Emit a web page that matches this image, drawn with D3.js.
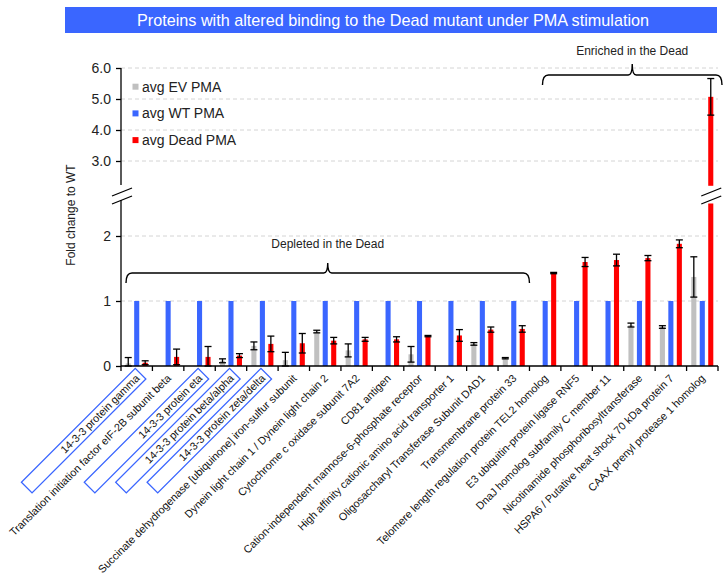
<!DOCTYPE html>
<html>
<head>
<meta charset="utf-8">
<script src="https://cdn.jsdelivr.net/npm/d3@7"></script>
<style>
  html, body { margin: 0; padding: 0; background: #fff; }
  svg { display: block; font-family: "Liberation Sans", Arial, sans-serif; }
</style>
</head>
<body>
<svg id="chart" width="725" height="577"></svg>
<script>
// Proteins, in plotting order
const categories = [
  "14-3-3 protein gamma",
  "Translation initiation factor eIF-2B subunit beta",
  "14-3-3 protein eta",
  "14-3-3 protein beta/alpha",
  "14-3-3 protein zeta/delta",
  "Succinate dehydrogenase [ubiquinone] iron-sulfur subunit",
  "Dynein light chain 1 / Dynein light chain 2",
  "Cytochrome c oxidase subunit 7A2",
  "CD81 antigen",
  "Cation-independent mannose-6-phosphate receptor",
  "High affinity cationic amino acid transporter 1",
  "Oligosaccharyl Transferase Subunit DAD1",
  "Transmembrane protein 33",
  "Telomere length regulation protein TEL2 homolog",
  "E3 ubiquitin-protein ligase RNF5",
  "DnaJ homolog subfamily C member 11",
  "Nicotinamide phosphoribosyltransferase",
  "HSPA6 / Putative heat shock 70 kDa protein 7",
  "CAAX prenyl protease 1 homolog"
];
// labels that get an outline box
const boxedLabels = [
  "14-3-3 protein gamma",
  "14-3-3 protein eta",
  "14-3-3 protein beta/alpha",
  "14-3-3 protein zeta/delta"
];

const seriesNames = ["avg EV PMA", "avg WT PMA", "avg Dead PMA"];

const evValues   = [0.04, 0, 0, 0.08, 0.31, 0.09, 0.53, 0.24, 0, 0.18, 0, 0.34, 0.12, 0, 0, 0, 0.63, 0.60, 1.37];
const evErrors   = [0.09, 0, 0, 0.03, 0.06, 0.12, 0.02, 0.10, 0, 0.12, 0, 0.02, 0.01, 0, 0, 0, 0.03, 0.02, 0.31];
const wtValues   = [1, 1, 1, 1, 1, 1, 1, 1, 1, 1, 1, 1, 1, 1, 1, 1, 1, 1, 1];
const wtErrors   = [0, 0, 0, 0, 0, 0, 0, 0, 0, 0, 0, 0, 0, 0, 0, 0, 0, 0, 0];
const deadValues = [0.05, 0.14, 0.14, 0.16, 0.34, 0.35, 0.39, 0.41, 0.41, 0.46, 0.47, 0.56, 0.57, 1.43, 1.60, 1.63, 1.66, 1.88, 5.07];
const deadErrors = [0.03, 0.12, 0.16, 0.03, 0.12, 0.15, 0.05, 0.03, 0.04, 0.01, 0.09, 0.04, 0.05, 0.01, 0.07, 0.09, 0.04, 0.06, 0.59];

const lowerTicks = [0, 1, 2];
const upperTicks = [3, 4, 5, 6];
const depletedRange = [0, 12];
const enrichedRange = [13, 18];

const colors = { "avg EV PMA": "#c0c0c0", "avg WT PMA": "#3a66ff", "avg Dead PMA": "#ff0000" };

const svg = d3.select("#chart");
const font = "'Liberation Sans', Arial, sans-serif";

// ---- layout ----
const plotLeft = 121, plotRight = 718;
const x = d3.scaleBand().domain(categories).range([plotLeft, plotRight]).padding(0);
const xs = d3.scaleBand().domain(seriesNames).range([3, x.bandwidth() - 3]).paddingInner(0.4).paddingOuter(0.2);

// broken y axis: lower panel 0..2.5, upper panel 2.2..6
const yLow = d3.scaleLinear().domain([0, 2.5]).range([366, 203.5]);
const yUp = d3.scaleLinear().domain([2.2, 6]).range([185.8, 68]);

const rows = categories.map((c, i) => ({
  cat: c,
  vals: [
    { s: seriesNames[0], v: evValues[i], e: evErrors[i] },
    { s: seriesNames[1], v: wtValues[i], e: wtErrors[i] },
    { s: seriesNames[2], v: deadValues[i], e: deadErrors[i] }
  ]
}));

// ---- title bar ----
svg.append("rect").attr("x", 65).attr("y", 7).attr("width", 652).attr("height", 26).attr("fill", "#3a66ff");
svg.append("text").attr("x", 393).attr("y", 25.5).attr("text-anchor", "middle")
  .attr("fill", "#fff").attr("font-size", 16.2).text("Proteins with altered binding to the Dead mutant under PMA stimulation");

// ---- gridlines ----
const grid = svg.append("g").attr("stroke", "#d4d4d4").attr("stroke-dasharray", "4,3").attr("stroke-width", 1);
lowerTicks.filter(t => t > 0).forEach(t => {
  grid.append("line").attr("x1", plotLeft).attr("x2", plotRight).attr("y1", yLow(t)).attr("y2", yLow(t));
});
upperTicks.forEach(t => {
  grid.append("line").attr("x1", plotLeft).attr("x2", plotRight).attr("y1", yUp(t)).attr("y2", yUp(t));
});

// ---- bars ----
const barG = svg.append("g");
rows.forEach(r => {
  r.vals.forEach(d => {
    if (d.v <= 0) return;
    const bx = x(r.cat) + xs(d.s);
    const w = xs.bandwidth();
    const lowTop = d.v > 2.5 ? 2.5 : d.v;
    barG.append("rect").attr("x", bx).attr("width", w)
      .attr("y", yLow(lowTop)).attr("height", yLow(0) - yLow(lowTop)).attr("fill", colors[d.s]);
    if (d.v > 2.5) {
      barG.append("rect").attr("x", bx).attr("width", w)
        .attr("y", yUp(d.v)).attr("height", yUp(2.2) - yUp(d.v)).attr("fill", colors[d.s]);
    }
  });
});

// ---- error bars ----
const errG = svg.append("g").attr("stroke", "#000").attr("stroke-width", 1.3);
rows.forEach(r => {
  r.vals.forEach(d => {
    if (d.e <= 0) return;
    const cx = x(r.cat) + xs(d.s) + xs.bandwidth() / 2;
    const ys = d.v > 2.5 ? yUp : yLow;
    const hi = ys(d.v + d.e), lo = ys(Math.max(0, d.v - d.e));
    errG.append("line").attr("x1", cx).attr("x2", cx).attr("y1", hi).attr("y2", lo);
    errG.append("line").attr("x1", cx - 3.5).attr("x2", cx + 3.5).attr("y1", hi).attr("y2", hi);
    errG.append("line").attr("x1", cx - 3.5).attr("x2", cx + 3.5).attr("y1", lo).attr("y2", lo);
  });
});

// ---- y axes ----
const axLow = svg.append("g").attr("transform", `translate(${plotLeft},0)`)
  .call(d3.axisLeft(yLow).tickValues(lowerTicks).tickFormat(d3.format("d")).tickSize(5).tickPadding(5).tickSizeOuter(0));
axLow.select(".domain").remove();
axLow.append("line").attr("x1", 0).attr("x2", 0).attr("y1", 200).attr("y2", yLow(0)).attr("stroke", "#000").attr("stroke-width", 1.3);

const axUp = svg.append("g").attr("transform", `translate(${plotLeft},0)`)
  .call(d3.axisLeft(yUp).tickValues(upperTicks).tickFormat(d3.format(".1f")).tickSize(5).tickPadding(5).tickSizeOuter(0));
axUp.select(".domain").remove();
axUp.append("line").attr("x1", 0).attr("x2", 0).attr("y1", yUp(6)).attr("y2", 185).attr("stroke", "#000").attr("stroke-width", 1.3);

[axLow, axUp].forEach(a => {
  a.selectAll("text").attr("font-size", 14).attr("font-family", font).attr("fill", "#222");
  a.selectAll(".tick line").attr("stroke", "#000").attr("stroke-width", 1.3);
});

// axis break marks (left axis and the tall bar)
function breakMarks(cx) {
  const g = svg.append("g");
  g.append("polygon")
    .attr("points", `${cx - 10},197 ${cx + 10},189 ${cx + 10},195 ${cx - 10},203`)
    .attr("fill", "#fff");
  [[196, 188], [204, 196]].forEach(([a, b]) => {
    g.append("line").attr("x1", cx - 10).attr("y1", a).attr("x2", cx + 10).attr("y2", b)
      .attr("stroke", "#000").attr("stroke-width", 1.3);
  });
}
breakMarks(plotLeft + 1);
const lastCat = categories[categories.length - 1];
breakMarks(x(lastCat) + xs("avg Dead PMA") + xs.bandwidth() / 2 + 0.5);

// y title
svg.append("text").attr("transform", "translate(75,215) rotate(-90)")
  .attr("text-anchor", "middle").attr("font-size", 12).attr("fill", "#222").text("Fold change to WT");

// ---- x axis ----
const xAxisG = svg.append("g");
xAxisG.append("line").attr("x1", plotLeft).attr("x2", plotRight).attr("y1", yLow(0)).attr("y2", yLow(0))
  .attr("stroke", "#000").attr("stroke-width", 1.3);
const bounds = categories.map(c => x(c)).concat([plotRight]);
bounds.forEach(b => {
  xAxisG.append("line").attr("x1", b).attr("x2", b).attr("y1", yLow(0)).attr("y2", yLow(0) + 5)
    .attr("stroke", "#000").attr("stroke-width", 1.3);
});

// category labels rotated 45°
const labelG = svg.append("g");
categories.forEach(c => {
  const ax = x(c) + x.bandwidth() / 2 + 3.5, ay = 379;
  const g = labelG.append("g").attr("transform", `translate(${ax},${ay}) rotate(-45)`);
  if (boxedLabels.includes(c)) {
    g.append("rect").attr("x", -157).attr("y", -11).attr("width", 161).attr("height", 15)
      .attr("fill", "none").attr("stroke", "#3a66ff").attr("stroke-width", 1.3);
  }
  g.append("text").attr("text-anchor", "end").attr("font-size", 10.8).attr("fill", "#111").text(c);
});

// ---- legend ----
const legend = svg.append("g");
seriesNames.forEach((s, i) => {
  const cy = 86.7 + i * 26.7;
  legend.append("rect").attr("x", 132.5).attr("y", cy - 3).attr("width", 6).attr("height", 6).attr("fill", colors[s]);
  legend.append("text").attr("x", 142).attr("y", cy + 5).attr("font-size", 14).attr("fill", "#222").text(s);
});

// ---- group braces ----
function brace(x1, x2, yLine, drop, tip) {
  const xm = (x1 + x2) / 2;
  const p = d3.path();
  p.moveTo(x1, yLine + drop);
  p.quadraticCurveTo(x1, yLine, x1 + 6, yLine);
  p.lineTo(xm - 4, yLine);
  p.quadraticCurveTo(xm, yLine, xm, yLine - tip);
  p.quadraticCurveTo(xm, yLine, xm + 4, yLine);
  p.lineTo(x2 - 6, yLine);
  p.quadraticCurveTo(x2, yLine, x2, yLine + drop);
  svg.append("path").attr("d", p.toString()).attr("fill", "none").attr("stroke", "#000").attr("stroke-width", 1.4);
  return xm;
}
const dm = brace(x(categories[depletedRange[0]]) + 5, x(categories[depletedRange[1]]) + x.bandwidth(), 273, 10, 10);
svg.append("text").attr("x", dm).attr("y", 248).attr("text-anchor", "middle").attr("font-size", 12).attr("fill", "#222").text("Depleted in the Dead");
const em = brace(x(categories[enrichedRange[0]]) + 13, x(categories[enrichedRange[1]]) + x.bandwidth() + 4, 75, 10, 11);
svg.append("text").attr("x", em).attr("y", 54.5).attr("text-anchor", "middle").attr("font-size", 12).attr("fill", "#222").text("Enriched in the Dead");
</script>
</body>
</html>
